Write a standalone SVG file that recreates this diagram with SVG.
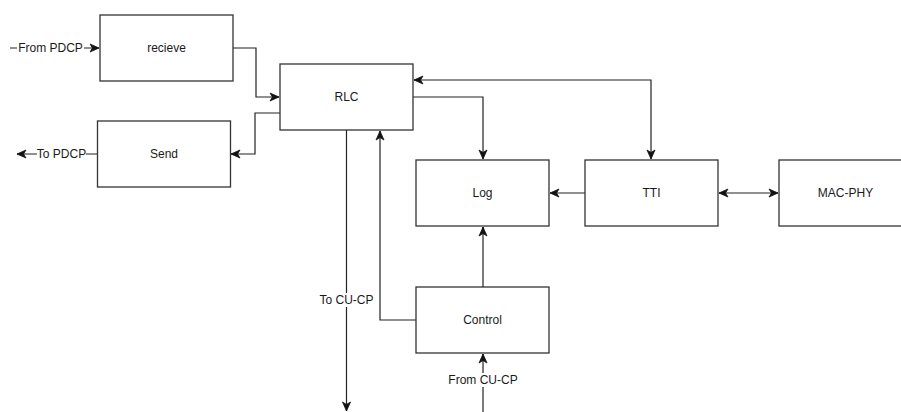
<svg xmlns="http://www.w3.org/2000/svg" width="901" height="412" viewBox="0 0 901 412">
<style>
.box{fill:#fff;stroke:#333;stroke-width:1.3}
.t{font-family:"Liberation Sans",Arial,sans-serif;font-size:12px;fill:#1a1a1a;text-anchor:middle;dominant-baseline:central}
.e{fill:none;stroke:#222;stroke-width:1.2}
.lb{fill:#fff}
</style>
<defs>
<marker id="ar" markerUnits="userSpaceOnUse" markerWidth="12" markerHeight="12" viewBox="0 0 12 12" refX="10" refY="6" orient="auto-start-reverse">
<path d="M1,2 L10,6 L1,10 L3.5,6 Z" fill="#111" stroke="#111" stroke-width="0.8"/>
</marker>
</defs>
<rect width="901" height="412" fill="#fff"/>
<g id="connectors">
<path class="e" d="M10,48 H99" marker-end="url(#ar)"/>
<rect class="lb" x="17" y="41" width="67" height="14"/>
<text class="t" x="50.5" y="48">From PDCP</text>
<path class="e" d="M233,48 H256 V97 H279" marker-end="url(#ar)"/>
<path class="e" d="M280,113 H255 V154 H231" marker-end="url(#ar)"/>
<path class="e" d="M97.5,154 H17" marker-end="url(#ar)"/>
<rect class="lb" x="37" y="147" width="49" height="14"/>
<text class="t" x="61.5" y="154">To PDCP</text>
<path class="e" d="M414,80 H651 V159" marker-start="url(#ar)" marker-end="url(#ar)"/>
<path class="e" d="M413,97 H483 V159" marker-end="url(#ar)"/>
<path class="e" d="M585,193 H550" marker-end="url(#ar)"/>
<path class="e" d="M719,193 H778" marker-start="url(#ar)" marker-end="url(#ar)"/>
<path class="e" d="M483,287 V227" marker-end="url(#ar)"/>
<path class="e" d="M416,320 H380 V131" marker-end="url(#ar)"/>
<path class="e" d="M346.5,130 V411" marker-end="url(#ar)"/>
<rect class="lb" x="316" y="293" width="61" height="14"/>
<text class="t" x="346.5" y="300">To CU-CP</text>
<path class="e" d="M483,412 V354" marker-end="url(#ar)"/>
<rect class="lb" x="447" y="373" width="72" height="14"/>
<text class="t" x="483" y="380">From CU-CP</text>
</g>
<g id="recieve"><rect class="box" x="100" y="15" width="133" height="66"/><text class="t" x="166.5" y="48">recieve</text></g>
<g id="send"><rect class="box" x="97.5" y="121" width="133" height="66"/><text class="t" x="164" y="154">Send</text></g>
<g id="rlc"><rect class="box" x="280" y="64" width="133" height="66"/><text class="t" x="346.5" y="97">RLC</text></g>
<g id="log"><rect class="box" x="416" y="160" width="133" height="66"/><text class="t" x="482.5" y="193">Log</text></g>
<g id="tti"><rect class="box" x="585" y="160" width="133" height="66"/><text class="t" x="651.5" y="193">TTI</text></g>
<g id="macphy"><rect class="box" x="779" y="160" width="133" height="66"/><text class="t" x="845.5" y="193">MAC-PHY</text></g>
<g id="control"><rect class="box" x="416" y="287" width="133" height="66"/><text class="t" x="482.5" y="320">Control</text></g>
</svg>
